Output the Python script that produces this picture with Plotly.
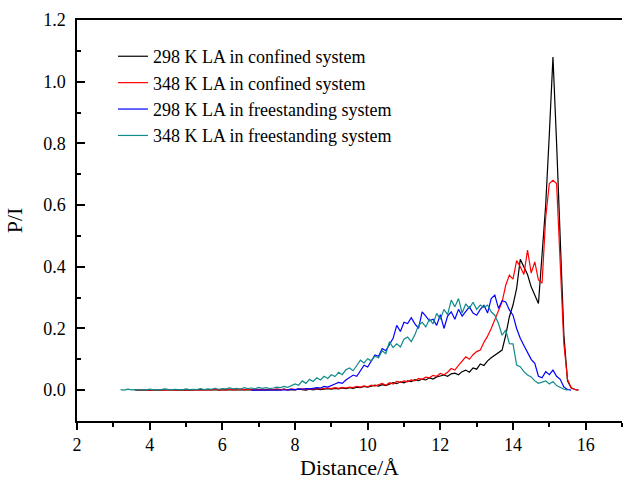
import numpy as np
import plotly.graph_objects as go

# Shared distance grid (Å)
distance = [round(v, 2) for v in np.arange(3.2, 15.85, 0.1)]

N = None
black_298_confined = [
    N, N, N, N, 0.0, 0.001, 0.0, 0.001, 0.0, 0.001,
    0.001, 0.0, 0.001, 0.0, 0.002, 0.0, 0.001, 0.0, 0.001, 0.0,
    0.001, 0.0, 0.002, 0.001, 0.0, 0.001, 0.002, 0.0, 0.001, 0.001,
    0.002, 0.0, 0.001, 0.002, 0.001, 0.0, 0.002, 0.001, 0.002, 0.001,
    0.002, 0.001, 0.0, 0.002, 0.001, 0.003, 0.001, 0.002, 0.001, 0.003,
    0.002, 0.0, 0.003, 0.001, 0.004, 0.002, 0.003, 0.005, 0.003, 0.006,
    0.004, 0.007, 0.005, 0.008, 0.006, 0.010, 0.008, 0.012, 0.010, 0.014,
    0.016, 0.013, 0.018, 0.015, 0.020, 0.024, 0.021, 0.027, 0.024, 0.030,
    0.028, 0.034, 0.031, 0.036, 0.033, 0.040, 0.036, 0.043, 0.046, 0.049,
    0.045, 0.053, 0.055, 0.050, 0.060, 0.065, 0.058, 0.072, 0.068, 0.085,
    0.080, 0.095, 0.105, 0.113, 0.120, 0.130, 0.178, 0.238, 0.276, 0.330,
    0.424, 0.400, 0.375, 0.335, 0.310, 0.281, 0.440, 0.600, 0.830, 1.080,
    0.800, 0.500, 0.180, 0.030, 0.008, 0.002, 0.0,
]

red_348_confined = [
    N, N, N, N, 0.0, 0.0, 0.001, 0.0, 0.001, 0.0,
    0.0, 0.001, 0.0, 0.001, 0.0, 0.002, 0.0, 0.001, 0.0, 0.001,
    0.0, 0.002, 0.001, 0.0, 0.002, 0.001, 0.003, 0.001, 0.002, 0.0,
    0.003, 0.001, 0.002, 0.004, 0.001, 0.003, 0.002, 0.001, 0.003, 0.002,
    0.001, 0.003, 0.002, 0.004, 0.002, 0.003, 0.001, 0.004, 0.002, 0.003,
    0.004, 0.002, 0.005, 0.003, 0.006, 0.004, 0.005, 0.007, 0.005, 0.008,
    0.006, 0.009, 0.007, 0.010, 0.008, 0.012, 0.010, 0.014, 0.011, 0.016,
    0.013, 0.018, 0.022, 0.016, 0.024, 0.020, 0.028, 0.025, 0.030, 0.027,
    0.033, 0.030, 0.038, 0.035, 0.042, 0.040, 0.048, 0.045, 0.054, 0.050,
    0.058, 0.070, 0.065, 0.080, 0.095, 0.108, 0.100, 0.115, 0.125, 0.130,
    0.155, 0.175, 0.200, 0.227, 0.260, 0.286, 0.340, 0.373, 0.360, 0.420,
    0.400, 0.375, 0.454, 0.380, 0.416, 0.357, 0.347, 0.560, 0.670, 0.680,
    0.670, 0.400, 0.150, 0.035, 0.008, 0.002, 0.0,
]

blue_298_free = [
    N, N, N, N, N, N, N, N, N, N,
    N, N, N, N, N, N, N, N, N, N,
    N, N, N, N, N, N, N, N, N, N,
    N, N, N, N, N, N, 0.0, 0.0, 0.001, 0.0,
    0.001, 0.0, 0.002, 0.001, 0.0, 0.002, 0.001, 0.003, 0.002, 0.004,
    0.003, 0.005, 0.004, 0.006, 0.008, 0.007, 0.012, 0.010, 0.016, 0.020,
    0.025, 0.022, 0.033, 0.040, 0.049, 0.045, 0.062, 0.081, 0.075, 0.095,
    0.114, 0.110, 0.135, 0.128, 0.150, 0.168, 0.210, 0.190, 0.220, 0.216,
    0.235, 0.215, 0.200, 0.254, 0.240, 0.225, 0.230, 0.210, 0.245, 0.200,
    0.240, 0.254, 0.230, 0.262, 0.240, 0.254, 0.270, 0.250, 0.243, 0.262,
    0.275, 0.250, 0.297, 0.308, 0.265, 0.290, 0.286, 0.260, 0.243, 0.200,
    0.168, 0.145, 0.124, 0.100, 0.087, 0.045, 0.040, 0.060, 0.050, 0.065,
    0.045, 0.035, 0.010, 0.002, 0.0, N, N,
]

teal_348_free = [
    0.002, 0.0, 0.003, 0.001, 0.002, 0.0, 0.002, 0.001, 0.003, 0.001,
    0.002, 0.001, 0.004, 0.002, 0.001, 0.003, 0.002, 0.001, 0.004, 0.002,
    0.003, 0.002, 0.005, 0.002, 0.004, 0.003, 0.006, 0.003, 0.005, 0.004,
    0.007, 0.004, 0.006, 0.003, 0.008, 0.005, 0.007, 0.004, 0.009, 0.006,
    0.008, 0.005, 0.007, 0.010, 0.008, 0.012, 0.009, 0.015, 0.020, 0.016,
    0.030, 0.022, 0.035, 0.028, 0.040, 0.033, 0.045, 0.038, 0.050, 0.044,
    0.058, 0.050, 0.066, 0.072, 0.063, 0.080, 0.097, 0.088, 0.102, 0.095,
    0.110, 0.105, 0.128, 0.118, 0.157, 0.138, 0.150, 0.140, 0.165, 0.172,
    0.157, 0.180, 0.210, 0.220, 0.205, 0.230, 0.215, 0.249, 0.230, 0.262,
    0.245, 0.292, 0.270, 0.297, 0.250, 0.280, 0.265, 0.285, 0.262, 0.276,
    0.268, 0.276, 0.254, 0.243, 0.216, 0.178, 0.195, 0.151, 0.150, 0.081,
    0.076, 0.060, 0.049, 0.043, 0.030, 0.022, 0.025, 0.030, 0.020, 0.028,
    0.015, 0.008, 0.003, 0.0, N, N, N,
]

series_names = [
    "298 K LA in confined system",
    "348 K LA in confined system",
    "298 K LA in freestanding system",
    "348 K LA in freestanding system",
]
series_values = [black_298_confined, red_348_confined, blue_298_free, teal_348_free]
series_colors = ["#000000", "#ff0000", "#0000ff", "#128a8a"]

FONT = "Liberation Serif"

fig = go.Figure()
for name, vals, col in zip(series_names, series_values, series_colors):
    fig.add_trace(go.Scatter(
        x=distance, y=vals, mode="lines", name=name,
        line=dict(color=col, width=1.2), connectgaps=False,
    ))

fig.update_layout(
    width=624, height=488,
    margin=dict(l=77, r=2, t=20, b=67),
    paper_bgcolor="white", plot_bgcolor="white",
    font=dict(family=FONT, color="black", size=18),
    showlegend=True,
    legend=dict(
        x=0.066, y=0.955, xanchor="left", yanchor="top",
        bgcolor="rgba(0,0,0,0)", borderwidth=0,
        font=dict(family=FONT, size=18, color="black"),
        tracegroupgap=0,
    ),
    xaxis=dict(
        range=[2, 17], tickvals=[2, 4, 6, 8, 10, 12, 14, 16],
        showline=True, linecolor="black", linewidth=1.5, mirror=True,
        ticks="outside", ticklen=7, tickwidth=1.5, tickcolor="black",
        minor=dict(dtick=1, ticks="outside", ticklen=4, tickwidth=1.5, tickcolor="black"),
        showgrid=False, zeroline=False,
        tickfont=dict(family=FONT, size=18),
        title=dict(text="Distance/Å", font=dict(family=FONT, size=22), standoff=4),
    ),
    yaxis=dict(
        range=[-0.1, 1.2], tickvals=[0.0, 0.2, 0.4, 0.6, 0.8, 1.0, 1.2],
        tickformat=".1f",
        showline=True, linecolor="black", linewidth=1.5, mirror=False,
        ticks="inside", ticklen=8, tickwidth=1.5, tickcolor="black",
        minor=dict(dtick=0.1, ticks="inside", ticklen=4, tickwidth=1.5, tickcolor="black"),
        showgrid=False, zeroline=False,
        tickfont=dict(family=FONT, size=18),
        ticklabelstandoff=6,
        title=dict(text="P/I", font=dict(family=FONT, size=22), standoff=14),
    ),
)

fig.write_html("out.html")
